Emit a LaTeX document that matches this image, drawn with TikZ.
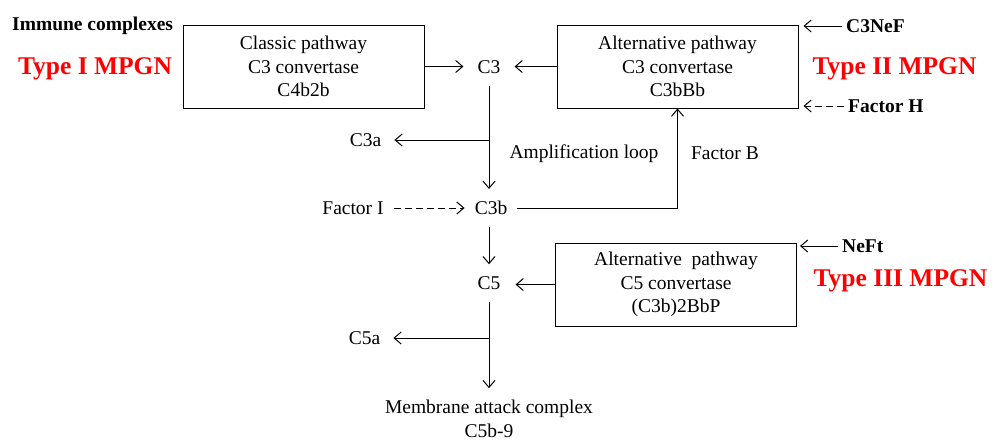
\documentclass[tikz,border=0pt]{standalone}
\usepackage{fontspec}
\setmainfont{Liberation Serif}
\usetikzlibrary{arrows.meta,calc}
\begin{document}
\begin{tikzpicture}[x=1pt,y=-1pt,
  every node/.style={font=\fontsize{19.5}{23.5}\selectfont},
  box/.style={draw,line width=1pt,minimum width=241pt,minimum height=83pt,align=center,inner sep=0pt},
  bold/.style={font=\fontsize{19.5}{23.5}\selectfont\bfseries,inner xsep=4pt,inner ysep=0pt},
  mpgn/.style={font=\fontsize{25.5}{30}\selectfont\bfseries,text=red,inner sep=0pt},
  arr/.style={line width=1pt,-{Straight Barb[length=7pt,width=12pt]}},
  darr/.style={arr,dash pattern=on 7pt off 4pt},
  ln/.style={line width=1pt}]
\useasboundingbox (0,0) rectangle (1002,440);
% boxes
\node[box] (classic) at (303.5,66.5) {Classic pathway\\C3 convertase\\C4b2b};
\node[box] (alt) at (677.5,66.5) {Alternative pathway\\C3 convertase\\C3bBb};
\node[box] (alt5) at (676,284.5) {Alternative\ \ pathway\\C5 convertase\\(C3b)2BbP};
% plain labels
\node[inner xsep=14pt,inner ysep=12pt] (c3) at (489,67) {C3};
\node[inner xsep=10pt,inner ysep=12pt] (c3b) at (491,208) {C3b};
\node[inner xsep=15pt,inner ysep=12pt] (c5) at (489,283) {C5};
\node[inner xsep=13pt,inner ysep=0pt] (c3a) at (365.5,140) {C3a};
\node[inner xsep=13pt,inner ysep=0pt] (c5a) at (364.5,338) {C5a};
\node[inner xsep=10pt] (fi) at (353,208) {Factor I};
\node[align=center,inner ysep=12pt] (mac) at (489,419) {Membrane attack complex\\C5b-9};
\node (amp) at (584,154) {Amplification loop};
\node (fb) at (725,153) {Factor B};
% bold labels
\node[bold,anchor=west] (imm) at (8,26) {Immune complexes};
\node[mpgn] (t1) at (95,69) {Type I MPGN};
\node[bold,anchor=west] (c3nef) at (842,26) {C3NeF};
\node[bold,anchor=west] (fh) at (844,106) {Factor H};
\node[bold,anchor=west] (neft) at (838,246) {NeFt};
\node[mpgn] (t2) at (894.5,69) {Type II MPGN};
\node[mpgn] (t3) at (900.5,281) {Type III MPGN};
% connectors
\draw[arr] (classic.east) -- (classic.east -| c3.west);
\draw[arr] (alt.west) -- (alt.west -| c3.east);
\draw[arr] (c3.south) -- (c3.south |- c3b.north);
\draw[arr] (c3.south |- c3a.east) -- (c3a.east);
\draw[arr] (c3b.east) -| (alt.south);
\draw[darr] (fi.east) -- (fi.east -| c3b.west);
\draw[arr] (c3b.south -| c3) -- (c5.north);
\draw[arr] (alt5.west) -- (alt5.west -| c5.east);
\draw[arr] (c5.south) -- (mac.north);
\draw[arr] (c5.south |- c5a.east) -- (c5a.east);
\draw[arr] (c3nef.west) -- ($(c3nef.west -| alt.east)+(5,0)$);
\draw[darr] (fh.west) -- ($(fh.west -| alt.east)+(5,0)$);
\draw[arr] (neft.west) -- ($(neft.west -| alt5.east)+(3,0)$);
\end{tikzpicture}
\end{document}
